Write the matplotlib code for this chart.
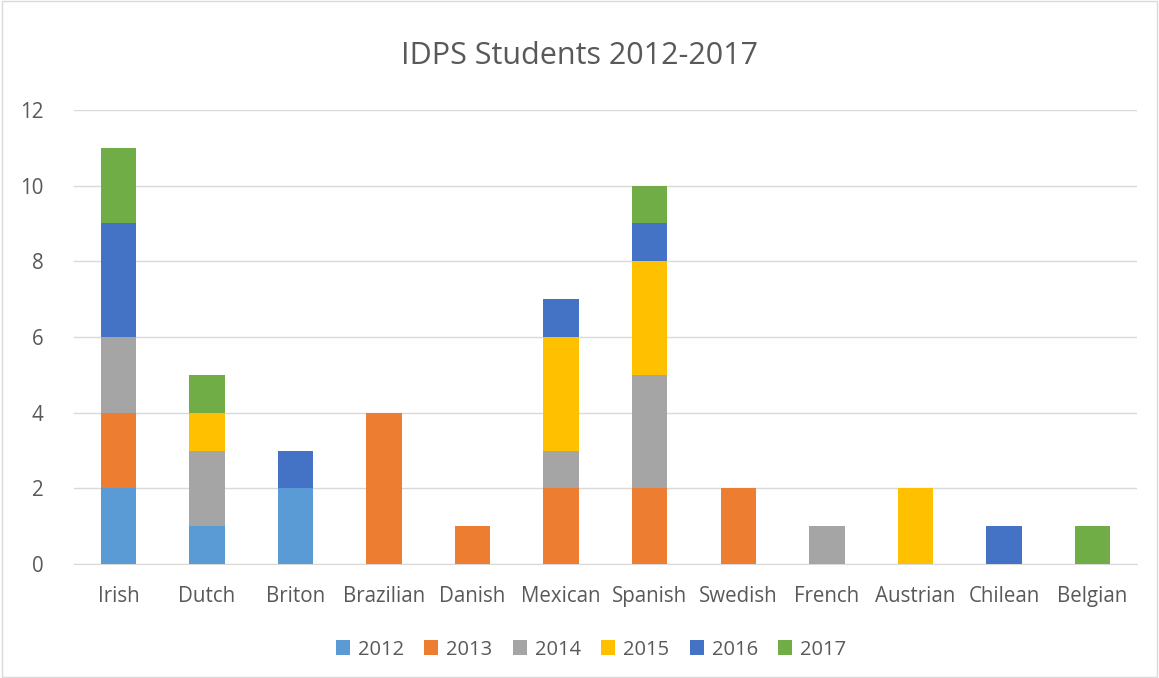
import matplotlib
matplotlib.use("Agg")
import matplotlib.pyplot as plt
import numpy as np

categories = ["Irish", "Dutch", "Briton", "Brazilian", "Danish", "Mexican",
              "Spanish", "Swedish", "French", "Austrian", "Chilean", "Belgian"]
years = ["2012", "2013", "2014", "2015", "2016", "2017"]
v2012 = [2, 1, 2, 0, 0, 0, 0, 0, 0, 0, 0, 0]
v2013 = [2, 0, 0, 4, 1, 2, 2, 2, 0, 0, 0, 0]
v2014 = [2, 2, 0, 0, 0, 1, 3, 0, 1, 0, 0, 0]
v2015 = [0, 1, 0, 0, 0, 3, 3, 0, 0, 2, 0, 0]
v2016 = [3, 0, 1, 0, 0, 1, 1, 0, 0, 0, 1, 0]
v2017 = [2, 1, 0, 0, 0, 0, 1, 0, 0, 0, 0, 1]
series = [v2012, v2013, v2014, v2015, v2016, v2017]
colors = ["#5B9BD5", "#ED7D31", "#A5A5A5", "#FFC000", "#4472C4", "#70AD47"]

plt.rcParams['font.family'] = ['Open Sans', 'DejaVu Sans']

fig = plt.figure(figsize=(11.59, 6.78), dpi=100)
ax = fig.add_axes([0.0639, 0.168, 0.917, 0.670])

x = np.arange(len(categories))
bottom = np.zeros(len(categories))
handles = []
for vals, c, yr in zip(series, colors, years):
    vals = np.array(vals, dtype=float)
    h = ax.bar(x, vals, 0.4, bottom=bottom, color=c, label=yr, zorder=3)
    bottom += vals
    handles.append(h)

ax.set_xlim(-0.5, len(categories) - 0.5)
ax.set_ylim(0, 12)
ax.set_yticks(range(0, 13, 2))
ax.set_xticks(x)
ax.set_xticklabels(categories)
ax.grid(axis='y', color='#D9D9D9', linewidth=1, zorder=0)
for s in ['top', 'right', 'left']:
    ax.spines[s].set_visible(False)
ax.spines['bottom'].set_color('#D9D9D9')
ax.tick_params(axis='both', length=0, labelsize=14.8, colors='#595959')
ax.tick_params(axis='x', pad=16)
ax.tick_params(axis='y', pad=22)

fig.text(0.5, 0.918, "IDPS Students 2012-2017", ha='center', va='center',
         fontsize=22, color='#595959')

fig.legend(handles=handles, labels=years, loc='center', bbox_to_anchor=(0.51, 0.042),
           ncol=6, frameon=False, fontsize=14.5, handlelength=0.7, handleheight=0.7,
           columnspacing=1.0, handletextpad=0.4, labelcolor='#595959')

border = plt.Rectangle((0.002, 0.002), 0.996, 0.996, transform=fig.transFigure,
                       fill=False, edgecolor='#D9D9D9', linewidth=1)
fig.patches.append(border)

fig.savefig("out.png", dpi=100)
